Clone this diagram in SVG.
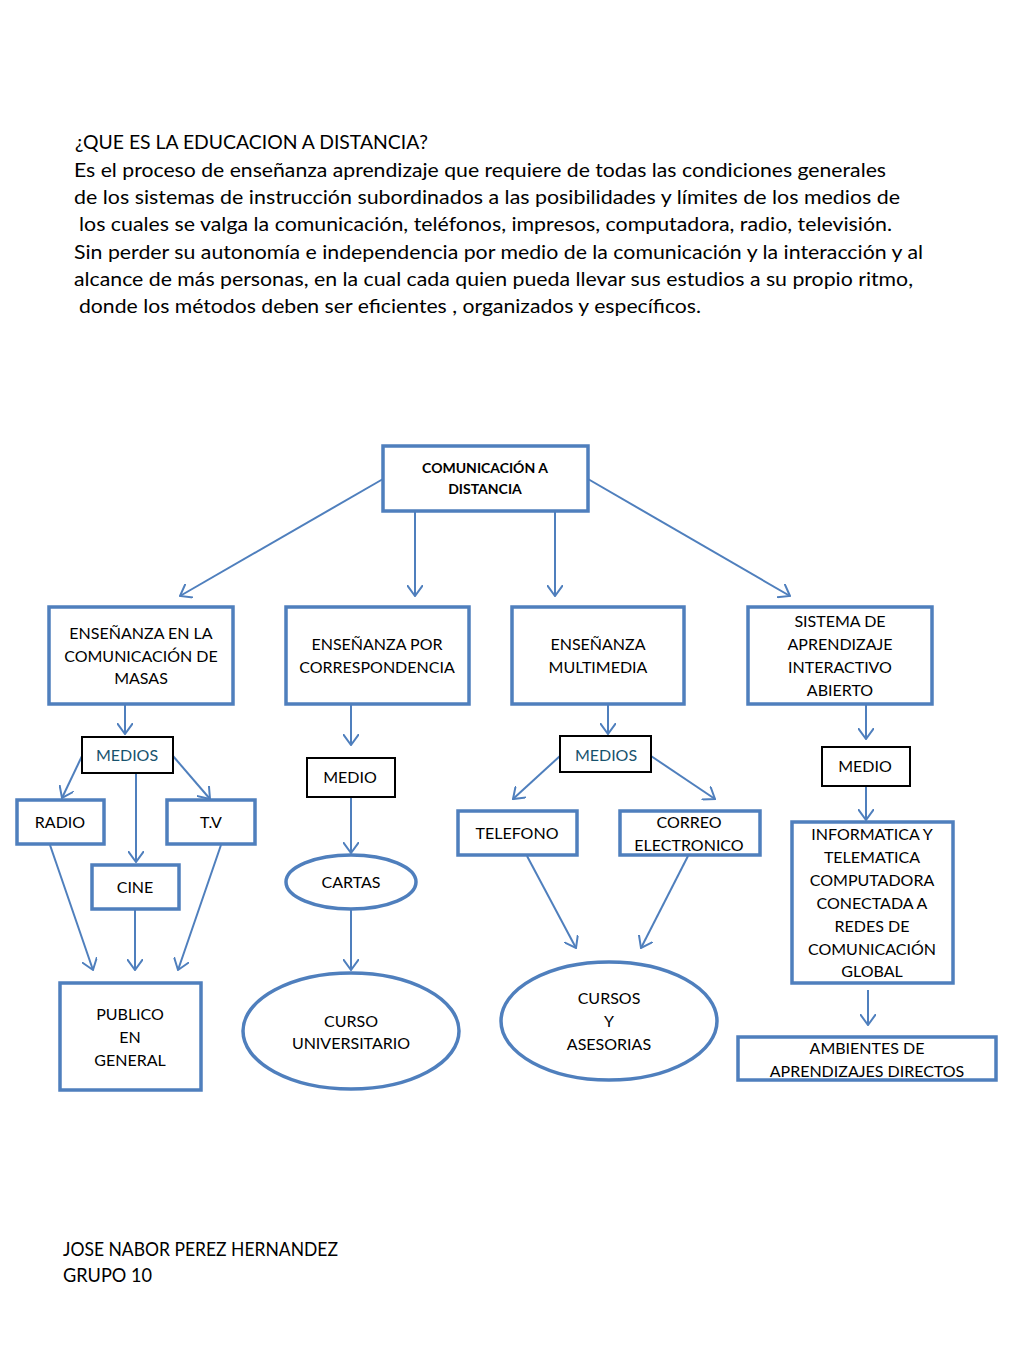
<svg xmlns="http://www.w3.org/2000/svg" width="1024" height="1365" viewBox="0 0 1024 1365">
<style>
.bg{fill:#ffffff}
.p{font-family:Lato,"Open Sans","Liberation Sans",sans-serif;font-size:18.5px;fill:#000}
.t{font-family:Lato,"Open Sans","Liberation Sans",sans-serif;font-size:16px;fill:#000;text-anchor:middle}
.tb{font-family:Lato,"Open Sans","Liberation Sans",sans-serif;font-size:14px;font-weight:bold;fill:#000;text-anchor:middle}
.tm{font-family:Lato,"Open Sans","Liberation Sans",sans-serif;font-size:16px;fill:#17536e;text-anchor:middle}
.bx{fill:#fff;stroke:#4f7fbd;stroke-width:3.5}
.bk{fill:#fff;stroke:#000;stroke-width:2}
.c{fill:none;stroke:#4f7fbd;stroke-width:2;marker-end:url(#ah)}
</style>
<defs>
<marker id="ah" viewBox="0 0 12 16" refX="11" refY="8" markerWidth="12" markerHeight="16" markerUnits="userSpaceOnUse" orient="auto">
<path d="M0,0 L11,8 L0,16" fill="none" stroke="#4f7fbd" stroke-width="2"/>
</marker>
</defs>
<rect class="bg" x="0" y="0" width="1024" height="1365"/>
<g id="intro">
<text class="p" x="75" y="149" textLength="353" lengthAdjust="spacingAndGlyphs">¿QUE ES LA EDUCACION A DISTANCIA?</text>
<text class="p" x="74" y="177" textLength="812" lengthAdjust="spacingAndGlyphs">Es el proceso de enseñanza aprendizaje que requiere de todas las condiciones generales</text>
<text class="p" x="74" y="204" textLength="826" lengthAdjust="spacingAndGlyphs">de los sistemas de instrucción subordinados  a las posibilidades y límites de los medios de</text>
<text class="p" x="79" y="231" textLength="813" lengthAdjust="spacingAndGlyphs">los cuales se valga la comunicación, teléfonos, impresos, computadora, radio, televisión.</text>
<text class="p" x="74" y="259" textLength="849" lengthAdjust="spacingAndGlyphs">Sin perder su autonomía e independencia por medio de la comunicación y la interacción y al</text>
<text class="p" x="74" y="286" textLength="839" lengthAdjust="spacingAndGlyphs">alcance de más personas, en la cual cada quien pueda llevar sus estudios a su propio ritmo,</text>
<text class="p" x="79" y="313" textLength="622" lengthAdjust="spacingAndGlyphs">donde los métodos deben ser eficientes , organizados y específicos.</text>
</g>
<g id="connectors">
<path class="c" d="M383,479 L180,596"/>
<path class="c" d="M415,511 L415,596"/>
<path class="c" d="M555,511 L555,596"/>
<path class="c" d="M588,479 L790,596"/>
<path class="c" d="M125,704 L125,734"/>
<path class="c" d="M82,756 L62,798"/>
<path class="c" d="M136,770 L136,862"/>
<path class="c" d="M173,756 L210,799"/>
<path class="c" d="M50,845 L93,970"/>
<path class="c" d="M135,909 L135,970"/>
<path class="c" d="M221,845 L178,970"/>
<path class="c" d="M351,704 L351,745"/>
<path class="c" d="M351,797 L351,853"/>
<path class="c" d="M351,908 L351,970"/>
<path class="c" d="M608,704 L608,734"/>
<path class="c" d="M560,756 L513,799"/>
<path class="c" d="M651,756 L715,799"/>
<path class="c" d="M527,856 L576,948"/>
<path class="c" d="M688,856 L641,948"/>
<path class="c" d="M866,704 L866,739"/>
<path class="c" d="M866,786 L866,820"/>
<path class="c" d="M868,990 L868,1025"/>
</g>
<g id="n-comunicacion"><rect class="bx" x="383" y="446" width="205" height="65"/>
<text class="tb" x="485" y="473">COMUNICACIÓN A</text><text class="tb" x="485" y="494">DISTANCIA</text></g>
<g id="n-masas"><rect class="bx" x="49" y="607" width="184" height="97"/>
<text class="t" x="141" y="639">ENSEÑANZA EN LA</text><text class="t" x="141" y="662">COMUNICACIÓN DE</text><text class="t" x="141" y="684">MASAS</text></g>
<g id="n-correspondencia"><rect class="bx" x="286" y="607" width="183" height="97"/>
<text class="t" x="377" y="650">ENSEÑANZA POR</text><text class="t" x="377" y="673">CORRESPONDENCIA</text></g>
<g id="n-multimedia"><rect class="bx" x="512" y="607" width="172" height="97"/>
<text class="t" x="598" y="650">ENSEÑANZA</text><text class="t" x="598" y="673">MULTIMEDIA</text></g>
<g id="n-sistema"><rect class="bx" x="748" y="607" width="184" height="97"/>
<text class="t" x="840" y="627">SISTEMA DE</text><text class="t" x="840" y="650">APRENDIZAJE</text><text class="t" x="840" y="673">INTERACTIVO</text><text class="t" x="840" y="696">ABIERTO</text></g>
<g id="n-medios1"><rect class="bk" x="82" y="737" width="91" height="36"/>
<text class="tm" x="127" y="761">MEDIOS</text></g>
<g id="n-radio"><rect class="bx" x="17" y="800" width="87" height="44"/><text class="t" x="60" y="828">RADIO</text></g>
<g id="n-tv"><rect class="bx" x="167" y="800" width="88" height="44"/><text class="t" x="211" y="828">T.V</text></g>
<g id="n-cine"><rect class="bx" x="92" y="865" width="87" height="44"/><text class="t" x="135" y="893">CINE</text></g>
<g id="n-publico"><rect class="bx" x="60" y="983" width="141" height="107"/>
<text class="t" x="130" y="1020">PUBLICO</text><text class="t" x="130" y="1043">EN</text><text class="t" x="130" y="1066">GENERAL</text></g>
<g id="n-medio2"><rect class="bk" x="307" y="758" width="88" height="39"/><text class="t" x="350" y="783">MEDIO</text></g>
<g id="n-cartas"><ellipse class="bx" cx="351" cy="882" rx="65" ry="27"/><text class="t" x="351" y="888">CARTAS</text></g>
<g id="n-curso"><ellipse class="bx" cx="351" cy="1031" rx="108" ry="58"/>
<text class="t" x="351" y="1027">CURSO</text><text class="t" x="351" y="1049">UNIVERSITARIO</text></g>
<g id="n-medios2"><rect class="bk" x="560" y="736" width="91" height="36"/><text class="tm" x="606" y="761">MEDIOS</text></g>
<g id="n-telefono"><rect class="bx" x="458" y="811" width="119" height="44"/><text class="t" x="517" y="839">TELEFONO</text></g>
<g id="n-correo"><rect class="bx" x="620" y="811" width="140" height="44"/>
<text class="t" x="689" y="828">CORREO</text><text class="t" x="689" y="851">ELECTRONICO</text></g>
<g id="n-cursos"><ellipse class="bx" cx="609" cy="1021" rx="108" ry="59"/>
<text class="t" x="609" y="1004">CURSOS</text><text class="t" x="609" y="1027">Y</text><text class="t" x="609" y="1050">ASESORIAS</text></g>
<g id="n-medio4"><rect class="bk" x="822" y="747" width="88" height="39"/><text class="t" x="865" y="772">MEDIO</text></g>
<g id="n-informatica"><rect class="bx" x="792" y="822" width="161" height="161"/>
<text class="t" x="872" y="840">INFORMATICA Y</text><text class="t" x="872" y="863">TELEMATICA</text><text class="t" x="872" y="886">COMPUTADORA</text><text class="t" x="872" y="909">CONECTADA A</text><text class="t" x="872" y="932">REDES DE</text><text class="t" x="872" y="955">COMUNICACIÓN</text><text class="t" x="872" y="977">GLOBAL</text></g>
<g id="n-ambientes"><rect class="bx" x="738" y="1037" width="258" height="43"/>
<text class="t" x="867" y="1054">AMBIENTES DE</text><text class="t" x="867" y="1077">APRENDIZAJES DIRECTOS</text></g>
<g id="footer">
<text class="p" x="63" y="1256" textLength="275" lengthAdjust="spacingAndGlyphs">JOSE NABOR PEREZ HERNANDEZ</text>
<text class="p" x="63" y="1282" textLength="89" lengthAdjust="spacingAndGlyphs">GRUPO 10</text>
</g>
</svg>
